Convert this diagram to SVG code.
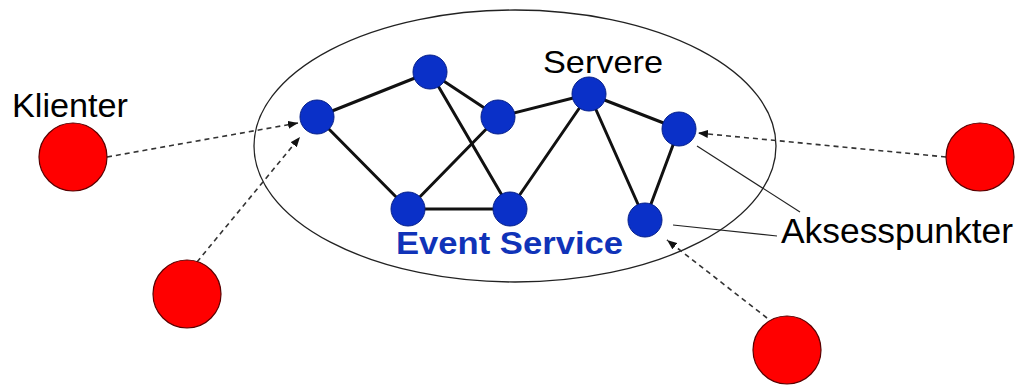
<svg xmlns="http://www.w3.org/2000/svg" width="1019" height="385" viewBox="0 0 1019 385">
  <style>
    .boundary { fill: none; stroke: #222; stroke-width: 1.3; }
    .edge { stroke: #111; stroke-width: 3; stroke-linecap: round; }
    .server { fill: #0a30c8; stroke: #06208a; stroke-width: 1; }
    .client { fill: #ff0000; stroke: #5a0000; stroke-width: 1.2; }
    .link { fill: none; stroke: #333; stroke-width: 1.6; stroke-dasharray: 5 4; }
    .leader { fill: none; stroke: #222; stroke-width: 1.2; }
    .label { font-family: "Liberation Sans", Arial, sans-serif; fill: #000; }
    .title { font-family: "Liberation Sans", Arial, sans-serif; font-weight: bold; fill: #1033b8; }
  </style>
  <defs>
    <marker id="arrow" viewBox="0 0 10 8" refX="10" refY="4" markerWidth="10" markerHeight="8" markerUnits="userSpaceOnUse" orient="auto">
      <path d="M0,0 L10,4 L0,8 Z" fill="#111"/>
    </marker>
  </defs>

  <rect width="1019" height="385" fill="#fff"/>

  <!-- event service boundary -->
  <ellipse class="boundary" cx="515" cy="146" rx="261" ry="136"/>

  <!-- connectors -->
  <g id="connectors">
    <line class="edge" x1="317" y1="117" x2="430" y2="72"/>
    <line class="edge" x1="317" y1="117" x2="408" y2="209"/>
    <line class="edge" x1="430" y1="72" x2="498" y2="117"/>
    <line class="edge" x1="430" y1="72" x2="510" y2="209"/>
    <line class="edge" x1="498" y1="117" x2="408" y2="209"/>
    <line class="edge" x1="498" y1="117" x2="589" y2="94"/>
    <line class="edge" x1="408" y1="209" x2="510" y2="209"/>
    <line class="edge" x1="510" y1="209" x2="589" y2="94"/>
    <line class="edge" x1="589" y1="94" x2="679" y2="129"/>
    <line class="edge" x1="589" y1="94" x2="645" y2="220"/>
    <line class="edge" x1="679" y1="129" x2="645" y2="220"/>

    <line class="link" x1="107" y1="157" x2="298" y2="123" marker-end="url(#arrow)"/>
    <line class="link" x1="197" y1="262" x2="300" y2="137" marker-end="url(#arrow)"/>
    <line class="link" x1="946" y1="157" x2="698" y2="133" marker-end="url(#arrow)"/>
    <line class="link" x1="767" y1="318" x2="667" y2="240" marker-end="url(#arrow)"/>

    <line class="leader" x1="697" y1="146" x2="800" y2="212"/>
    <line class="leader" x1="673" y1="225" x2="777" y2="236"/>
  </g>

  <!-- servers -->
  <g id="server-1"><circle class="server" cx="317" cy="117" r="17"/></g>
  <g id="server-2"><circle class="server" cx="430" cy="72" r="17"/></g>
  <g id="server-3"><circle class="server" cx="498" cy="117" r="17"/></g>
  <g id="server-4"><circle class="server" cx="589" cy="94" r="17"/></g>
  <g id="server-5"><circle class="server" cx="679" cy="129" r="17"/></g>
  <g id="server-6"><circle class="server" cx="408" cy="209" r="17"/></g>
  <g id="server-7"><circle class="server" cx="510" cy="209" r="17"/></g>
  <g id="server-8"><circle class="server" cx="645" cy="220" r="17"/></g>

  <!-- clients -->
  <g id="client-1"><circle class="client" cx="73" cy="157" r="34"/></g>
  <g id="client-2"><circle class="client" cx="187" cy="294" r="34"/></g>
  <g id="client-3"><circle class="client" cx="980" cy="157" r="34"/></g>
  <g id="client-4"><circle class="client" cx="787" cy="350" r="34"/></g>

  <!-- labels -->
  <g id="labels">
    <text class="label" x="12" y="117" font-size="33" textLength="116" lengthAdjust="spacingAndGlyphs">Klienter</text>
    <text class="label" x="543" y="73" font-size="32" textLength="120" lengthAdjust="spacingAndGlyphs">Servere</text>
    <text class="label" x="781" y="243" font-size="35" textLength="232" lengthAdjust="spacingAndGlyphs">Aksesspunkter</text>
    <text class="title" x="396" y="254" font-size="31" textLength="227" lengthAdjust="spacingAndGlyphs">Event Service</text>
  </g>
</svg>
